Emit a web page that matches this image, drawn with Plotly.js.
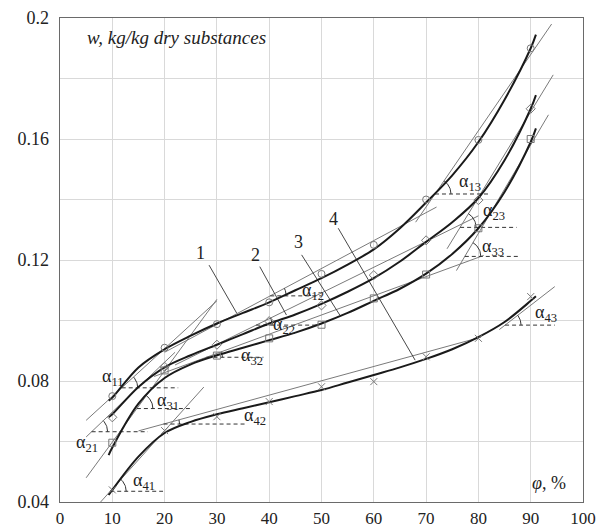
<!DOCTYPE html>
<html><head><meta charset="utf-8">
<script src="https://cdn.plot.ly/plotly-3.0.1.min.js"></script>
<style>html,body{margin:0;padding:0;background:#fff}#chart{width:599px;height:529px}</style>
</head><body><div id="chart"></div>
<script>
// Fitted (black) curves
const fitX = [9.3,10,15,20,25,30,35,40,45,50,55,60,65,70,75,80,85,90,91];
const fit1 = [0.0735,0.0745,0.0845,0.0905,0.095,0.099,0.1025,0.106,0.110,0.114,0.1185,0.1235,0.1305,0.139,0.148,0.159,0.173,0.190,0.1945];
const fit2 = [0.068,0.069,0.078,0.0845,0.0885,0.092,0.0955,0.099,0.102,0.1055,0.1095,0.114,0.1195,0.126,0.1325,0.1405,0.153,0.170,0.1745];
const fit3 = [0.0555,0.058,0.0725,0.081,0.0855,0.0885,0.091,0.0935,0.096,0.099,0.1025,0.1065,0.1105,0.1155,0.122,0.1305,0.1425,0.159,0.1635];
const fit4 = [0.0423,0.044,0.055,0.0628,0.0665,0.069,0.071,0.073,0.075,0.077,0.0795,0.082,0.0845,0.0873,0.0905,0.0945,0.0995,0.1065,0.108];

// Experimental points
const ptX = [10,20,30,40,50,60,70,80,90];
const pts1 = [0.075,0.091,0.0988,0.106,0.1154,0.125,0.140,0.1597,0.190];
const pts2 = [0.068,0.0847,0.092,0.0998,0.105,0.115,0.1265,0.1398,0.170];
const pts3 = [0.0596,0.0835,0.0884,0.0941,0.0986,0.1073,0.1152,0.1305,0.160];
const pts4 = [0.044,0.0636,0.0682,0.0732,0.0781,0.0798,0.088,0.0941,0.1079];

// Linear approximation segments (order: 11,12,13,21,22,23,31,32,33,41,42,43)
const segX0 = [5,20,68, 5,22,74, 5,18,75.8, 7.5,15,84];
const segY0 = [0.067,0.0895,0.1325, 0.0615,0.0853,0.1237, 0.048,0.0815,0.1165, 0.0395,0.0635,0.097];
const segX1 = [30,72,94, 22,80,94.3, 30,81,93.4, 27.5,80.5,94.6];
const segY1 = [0.1065,0.1375,0.198, 0.0895,0.1346,0.1812, 0.107,0.1215,0.168, 0.078,0.0945,0.1112];
// Angle vertices (x on segment) and dashed end
const angX = [11.8,40.2,71.7, 6.05,37.5,76.5, 14.7,28,77.4, 9.6,19.8,85.1];
const dashEnd = [22.6,50,82.2, 16.8,49,87.3, 25.4,38.9,88, 19.7,35.7,94.6];
const angLabels = ['α<sub>11</sub>','α<sub>12</sub>','α<sub>13</sub>','α<sub>21</sub>','α<sub>22</sub>','α<sub>23</sub>','α<sub>31</sub>','α<sub>32</sub>','α<sub>33</sub>','α<sub>41</sub>','α<sub>42</sub>','α<sub>43</sub>'];
const angLabX = [10.1,48.4,78.4, 5.2,42.8,83, 20.6,36.8,82.7, 16.1,37.3,93];
const angLabY = [0.0813,0.1095,0.1457, 0.0595,0.0985,0.136, 0.0732,0.088,0.124, 0.0467,0.0682,0.1024];

// Curve number labels and leaders
const numText = ['1','2','3','4'];
const numX = [26.8,37.3,45.6,52.3];
const numY = [0.1222,0.1217,0.126,0.1335];
const leadX0 = [28.5,38.2,46.2,53.2];
const leadY0 = [0.1183,0.1178,0.1217,0.1305];
const leadX1 = [33.8,43.3,53.5,67.9];
const leadY1 = [0.1024,0.1018,0.1018,0.0869];

const xTicks = [0,10,20,30,40,50,60,70,80,90,100];
const yTicks = [0.04,0.06,0.08,0.10,0.12,0.14,0.16,0.18,0.20];
const yTickText = ['0.04','','0.08','','0.12','','0.16','','0.2'];

const FONT = 'Times New Roman, Liberation Serif, serif';
const W = 599, H = 529, M = {l:60, r:16, t:18, b:27};
const pxX = (W - M.l - M.r) / 100;     // px per x unit
const pxY = (H - M.t - M.b) / 0.16;    // px per y unit

const traces = [];
{
  const x = [], y = [];
  for (let i = 0; i < segX0.length; i++) { x.push(segX0[i], segX1[i], null); y.push(segY0[i], segY1[i], null); }
  traces.push({x, y, mode:'lines', line:{color:'#7a7a7a', width:1}, hoverinfo:'skip'});
}
{
  const dx = [], dy = [], ax = [], ay = [];
  for (let i = 0; i < angX.length; i++) {
    const s = (segY1[i]-segY0[i])/(segX1[i]-segX0[i]);
    const vy = segY0[i] + s*(angX[i]-segX0[i]);
    dx.push(angX[i], dashEnd[i], null); dy.push(vy, vy, null);
    const th = Math.atan(s*pxY/pxX), R = 16;
    for (let k = 0; k <= 16; k++) {
      const t = th*k/16;
      ax.push(angX[i] + R*Math.cos(t)/pxX); ay.push(vy + R*Math.sin(t)/pxY);
    }
    ax.push(null); ay.push(null);
  }
  traces.push({x:dx, y:dy, mode:'lines', line:{color:'#333', width:1, dash:'4px,3px'}, hoverinfo:'skip'});
  traces.push({x:ax, y:ay, mode:'lines', line:{color:'#333', width:1}, hoverinfo:'skip'});
}
{
  const x = [], y = [];
  for (let i = 0; i < leadX0.length; i++) { x.push(leadX0[i], leadX1[i], null); y.push(leadY0[i], leadY1[i], null); }
  traces.push({x, y, mode:'lines', line:{color:'#333', width:0.9}, hoverinfo:'skip'});
}
[fit1, fit2, fit3, fit4].forEach(f => traces.push({x:fitX, y:f, mode:'lines', line:{color:'#1a1a1a', width:2, shape:'spline', smoothing:1}, hoverinfo:'skip'}));
const syms = ['circle-open','diamond-open','square-open','x-thin-open'];
[pts1, pts2, pts3, pts4].forEach((p, i) => traces.push({x:ptX, y:p, mode:'markers', marker:{symbol:syms[i], size:7, color:'#777', line:{color:'#777', width:1}}, hoverinfo:'skip'}));

const annotations = [];
for (let i = 0; i < angLabels.length; i++) {
  annotations.push({x:angLabX[i], y:angLabY[i], text:angLabels[i], showarrow:false, xanchor:'center', yanchor:'middle', font:{family:FONT, size:18, color:'#222'}});
}
for (let i = 0; i < numText.length; i++) {
  annotations.push({x:numX[i], y:numY[i], text:numText[i], showarrow:false, xanchor:'center', yanchor:'middle', font:{family:FONT, size:18, color:'#222'}});
}
annotations.push({x:4.8, y:0.1935, text:'<i>w, kg/kg dry substances</i>', showarrow:false, xanchor:'left', yanchor:'middle', font:{family:FONT, size:19, color:'#222'}});
annotations.push({x:97.2, y:0.0463, text:'<i>φ</i>, %', showarrow:false, xanchor:'right', yanchor:'middle', font:{family:FONT, size:18, color:'#222'}});

const axisCommon = {showline:true, mirror:true, linecolor:'#6a6a6a', linewidth:1.3, showgrid:true, gridcolor:'#d9d9d9', gridwidth:1, zeroline:false, fixedrange:true};
const layout = {
  width:W, height:H, margin:M, showlegend:false, paper_bgcolor:'#fff', plot_bgcolor:'#fff',
  font:{family:FONT},
  xaxis:Object.assign({}, axisCommon, {range:[0,100], tickvals:xTicks, ticktext:xTicks.map(String), ticks:'', tickfont:{family:FONT, size:17, color:'#222'}}),
  yaxis:Object.assign({}, axisCommon, {range:[0.04,0.2], tickvals:yTicks, ticktext:yTickText, ticks:'outside', tickcolor:'rgba(0,0,0,0)', ticklen:6, tickfont:{family:FONT, size:18, color:'#222'}}),
  annotations
};
Plotly.newPlot('chart', traces, layout, {staticPlot:true, displayModeBar:false});
</script></body></html>
